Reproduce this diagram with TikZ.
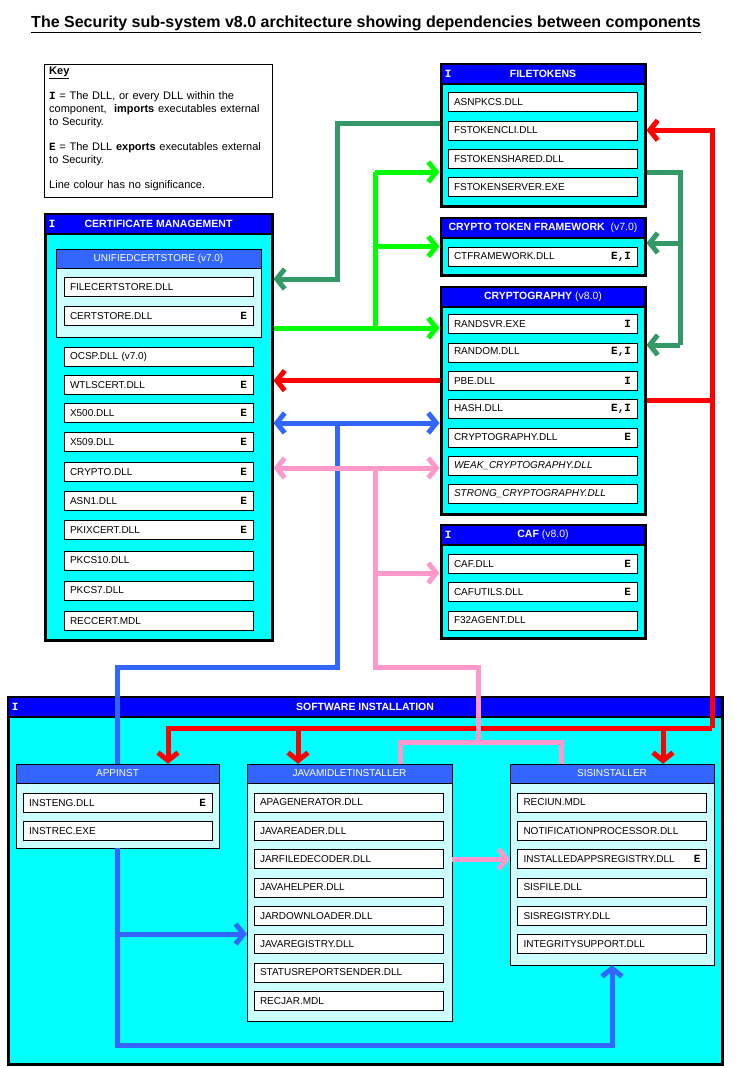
\documentclass[tikz,border=0pt]{standalone}
\usepackage{fontspec}
\setmainfont{Liberation Sans}
\newfontfamily\flagfont{Liberation Mono}
\usepackage{tikz}
\usetikzlibrary{positioning, arrows.meta, calc}
\definecolor{cyanbg}{HTML}{00FFFF}
\definecolor{hdrblue}{HTML}{0000FF}
\definecolor{midblue}{HTML}{3366FF}
\definecolor{paleblue}{HTML}{CCFFFF}
\definecolor{wiredgreen}{HTML}{339966}
\definecolor{wirelgreen}{HTML}{00FF00}
\definecolor{wirered}{HTML}{FF0000}
\definecolor{wireblue}{HTML}{3366FF}
\definecolor{wirepink}{HTML}{FF99CC}
\newcommand\itemfont{\fontsize{10}{12}\selectfont}
\newcommand\hdrfont{\fontsize{10.5}{12}\selectfont\bfseries}
\newcommand\dllflag[1]{\hfill{\flagfont\bfseries\fontsize{11}{12}\selectfont #1}\hspace*{3pt}}
\newcommand\keyflag[1]{{\flagfont\bfseries #1}}
\tikzset{
    titletext/.style={font=\fontsize{16}{19}\selectfont\bfseries, inner sep=0pt},
    keybox/.style={draw, thin, fill=white, inner sep=0pt},
    keytext/.style={font=\fontsize{11}{13}\selectfont, text width=222pt, align=left, inner sep=0pt},
    compbox/.style={draw, line width=3pt, fill=cyanbg, inner sep=0pt},
    comphead/.style={draw, line width=2.5pt, fill=hdrblue, text=white, font=\hdrfont, inner sep=0pt, minimum height=20pt},
    subbox/.style={draw, fill=paleblue, inner sep=0pt},
    subhead/.style={draw, fill=midblue, text=white, font=\itemfont, inner sep=0pt, minimum height=19pt},
    dllbox/.style={draw, fill=white, font=\itemfont, text width=177pt, inner xsep=6pt, inner ysep=0pt, minimum height=19pt, align=left},
    flagI/.style={text=white, font=\flagfont\bfseries\fontsize{11}{12}\selectfont, inner sep=0pt},
    wire/.style={line width=5pt},
    arr/.style={-{Straight Barb[length=8pt,width=20pt]}},
    arrs/.style={{Straight Barb[length=8pt,width=20pt]}-{Straight Barb[length=8pt,width=20pt]}},
}

\begin{document}
\begin{tikzpicture}[x=1pt, y=-1pt]
    \useasboundingbox (0,0) rectangle (741,1068);
    \node[titletext] (title) at (366,24) {\underline{The Security sub-system v8.0 architecture showing dependencies between components}};

    % key
    \node[keybox, minimum width=228pt, minimum height=133pt] (key) at (158,130.5) {};
    \node[keytext, anchor=north west] (keytxt) at (49,67) {\underline{\textbf{Key}}\\[12pt]
        \keyflag{I} = The DLL, or every DLL within the\\ component, \ \textbf{imports} executables external\\ to Security.\\[12pt]
        \keyflag{E} = The DLL \textbf{exports} executables external\\ to Security.\\[12pt]
        Line colour has no significance.};

    % FILETOKENS
    \node[compbox, minimum width=204pt, minimum height=142pt] (filetokens) at (543,135) {};
    \node[comphead, minimum width=204pt] (filetokens-h) at (543,74) {FILETOKENS};
    \node[flagI, anchor=west] (filetokens-i) at ([xshift=5pt]filetokens-h.west) {I};
    \node[dllbox] (asnpkcs) at (542.5,102) {ASNPKCS.DLL};
    \node[dllbox] (fstokencli) at (542.5,130.3) {FSTOKENCLI.DLL};
    \node[dllbox] (fstokenshared) at (542.5,158.6) {FSTOKENSHARED.DLL};
    \node[dllbox] (fstokenserver) at (542.5,187) {FSTOKENSERVER.EXE};

    % CRYPTO TOKEN FRAMEWORK
    \node[compbox, minimum width=204pt, minimum height=57pt] (ctfw) at (543,246.5) {};
    \node[comphead, minimum width=204pt] (ctfw-h) at (543,228) {CRYPTO TOKEN FRAMEWORK \ \mdseries(v7.0)};
    \node[dllbox] (ctframework) at (542.5,256.5) {CTFRAMEWORK.DLL\dllflag{E,I}};

    % CRYPTOGRAPHY
    \node[compbox, minimum width=204pt, minimum height=227pt] (cryptography) at (543,400.5) {};
    \node[comphead, minimum width=204pt] (cryptography-h) at (543,297) {CRYPTOGRAPHY \mdseries(v8.0)};
    \node[dllbox] (randsvr) at (542.5,324) {RANDSVR.EXE\dllflag{I}};
    \node[dllbox] (random) at (542.5,352.3) {RANDOM.DLL\dllflag{E,I}};
    \node[dllbox] (pbe) at (542.5,380.6) {PBE.DLL\dllflag{I}};
    \node[dllbox] (hash) at (542.5,409) {HASH.DLL\dllflag{E,I}};
    \node[dllbox] (cryptodll) at (542.5,437.3) {CRYPTOGRAPHY.DLL\dllflag{E}};
    \node[dllbox] (weakcrypto) at (542.5,465.6) {\textit{WEAK\_CRYPTOGRAPHY.DLL}};
    \node[dllbox] (strongcrypto) at (542.5,494) {\textit{STRONG\_CRYPTOGRAPHY.DLL}};

    % CAF
    \node[compbox, minimum width=204pt, minimum height=113pt] (caf) at (543,581.5) {};
    \node[comphead, minimum width=204pt] (caf-h) at (543,535) {CAF \mdseries(v8.0)};
    \node[flagI, anchor=west] (caf-i) at ([xshift=5pt]caf-h.west) {I};
    \node[dllbox] (cafdll) at (542.5,563.5) {CAF.DLL\dllflag{E}};
    \node[dllbox] (cafutils) at (542.5,592) {CAFUTILS.DLL\dllflag{E}};
    \node[dllbox] (f32agent) at (542.5,620.5) {F32AGENT.DLL};

    % CERTIFICATE MANAGEMENT
    \node[compbox, minimum width=227pt, minimum height=426pt] (cert) at (158.5,427) {};
    \node[comphead, minimum width=227pt] (cert-h) at (158.5,224) {CERTIFICATE MANAGEMENT};
    \node[flagI, anchor=west] (cert-i) at ([xshift=5pt]cert-h.west) {I};
    \node[subbox, minimum width=205pt, minimum height=88pt] (unifiedcertstore) at (158.5,293) {};
    \node[subhead, minimum width=205pt] (unifiedcertstore-h) at (158.5,258.5) {UNIFIEDCERTSTORE (v7.0)};
    \node[dllbox] (filecertstore) at (158.5,287) {FILECERTSTORE.DLL};
    \node[dllbox] (certstore) at (158.5,315.5) {CERTSTORE.DLL\dllflag{E}};
    \node[dllbox] (ocsp) at (158.5,357) {OCSP.DLL (v7.0)};
    \node[dllbox] (wtlscert) at (158.5,385) {WTLSCERT.DLL\dllflag{E}};
    \node[dllbox] (xfivehundred) at (158.5,412.5) {X500.DLL\dllflag{E}};
    \node[dllbox] (xfivenine) at (158.5,442) {X509.DLL\dllflag{E}};
    \node[dllbox] (cryptolib) at (158.5,472) {CRYPTO.DLL\dllflag{E}};
    \node[dllbox] (asnone) at (158.5,500.5) {ASN1.DLL\dllflag{E}};
    \node[dllbox] (pkixcert) at (158.5,530) {PKIXCERT.DLL\dllflag{E}};
    \node[dllbox] (pkcsten) at (158.5,560.5) {PKCS10.DLL};
    \node[dllbox] (pkcsseven) at (158.5,590.5) {PKCS7.DLL};
    \node[dllbox] (reccert) at (158.5,621) {RECCERT.MDL};

    % SOFTWARE INSTALLATION
    \node[compbox, minimum width=714pt, minimum height=367pt] (swinst) at (365,880.5) {};
    \node[comphead, minimum width=714pt] (swinst-h) at (365,707) {SOFTWARE INSTALLATION};
    \node[flagI, anchor=west] (swinst-i) at ([xshift=5pt]swinst-h.west) {I};

    \node[subbox, minimum width=203pt, minimum height=84pt] (appinst) at (117.5,806) {};
    \node[subhead, minimum width=203pt] (appinst-h) at (117.5,773.5) {APPINST};
    \node[dllbox] (insteng) at (117.5,802.5) {INSTENG.DLL\dllflag{E}};
    \node[dllbox] (instrec) at (117.5,831) {INSTREC.EXE};

    \node[subbox, minimum width=205pt, minimum height=257pt] (java) at (349.5,892.5) {};
    \node[subhead, minimum width=205pt] (java-h) at (349.5,773.5) {JAVAMIDLETINSTALLER};
    \node[dllbox] (apagenerator) at (348.5,802.5) {APAGENERATOR.DLL};
    \node[dllbox] (javareader) at (348.5,830.8) {JAVAREADER.DLL};
    \node[dllbox] (jarfiledecoder) at (348.5,859.1) {JARFILEDECODER.DLL};
    \node[dllbox] (javahelper) at (348.5,887.4) {JAVAHELPER.DLL};
    \node[dllbox] (jardownloader) at (348.5,915.7) {JARDOWNLOADER.DLL};
    \node[dllbox] (javaregistry) at (348.5,944) {JAVAREGISTRY.DLL};
    \node[dllbox] (statusreportsender) at (348.5,972.3) {STATUSREPORTSENDER.DLL};
    \node[dllbox] (recjar) at (348.5,1000.6) {RECJAR.MDL};

    \node[subbox, minimum width=204pt, minimum height=201pt] (sis) at (612,864.5) {};
    \node[subhead, minimum width=204pt] (sis-h) at (612,773.5) {SISINSTALLER};
    \node[dllbox] (reciun) at (612,802.5) {RECIUN.MDL};
    \node[dllbox] (notifproc) at (612,830.8) {NOTIFICATIONPROCESSOR.DLL};
    \node[dllbox] (installedapps) at (612,859.1) {INSTALLEDAPPSREGISTRY.DLL\dllflag{E}};
    \node[dllbox] (sisfile) at (612,887.4) {SISFILE.DLL};
    \node[dllbox] (sisregistry) at (612,915.7) {SISREGISTRY.DLL};
    \node[dllbox] (integritysupport) at (612,944) {INTEGRITYSUPPORT.DLL};

    % dependency lines
    \coordinate (dgA) at (337,123);
    \coordinate (dgB) at (337,279);
    \coordinate (dgC) at (680,172);
    \coordinate (dgD) at (680,345);
    \draw[wire, wiredgreen, arr] (dgA -| filetokens.west) -- (dgA) -- (dgB) -- (dgB -| cert.east);
    \draw[wire, wiredgreen] (dgC -| filetokens.east) -- (dgC) -- (dgD);
    \draw[wire, wiredgreen, arr] (dgD) -- (dgD -| cryptography.east);
    \draw[wire, wiredgreen, arr] (dgC |- 0,243) -- (ctfw.east |- 0,243);

    \coordinate (lgA) at (375,172);
    \coordinate (lgB) at (375,328);
    \draw[wire, wirelgreen, arr] (lgB -| cert.east) -- (lgB -| cryptography.west);
    \draw[wire, wirelgreen] (lgB) -- (lgA);
    \draw[wire, wirelgreen, arr] (lgA) -- (lgA -| filetokens.west);
    \draw[wire, wirelgreen, arr] (lgA |- ctfw.west) -- (ctfw.west);

    \coordinate (rdA) at (712,130.3);
    \coordinate (rdB) at (712,728);
    \coordinate (rdC) at (712,400);
    \coordinate (rdD) at (168,728);
    \coordinate (rdE) at (298,728);
    \coordinate (rdF) at (663,728);
    \draw[wire, wirered, arr] (pbe.west -| cryptography.west) -- (pbe.west -| cert.east);
    \draw[wire, wirered] (rdC -| cryptography.east) -- (rdC);
    \draw[wire, wirered, arr] (rdB) -- (rdA) -- (fstokencli -| filetokens.east);
    \draw[wire, wirered, arr] (rdB) -- (rdD) -- (rdD |- appinst.north);
    \draw[wire, wirered, arr] (rdE) -- (rdE |- java.north);
    \draw[wire, wirered, arr] (rdF) -- (rdF |- sis.north);

    \coordinate (blA) at (337,423);
    \coordinate (blB) at (337,667);
    \coordinate (blC) at (117.5,667);
    \coordinate (blD) at (117.5,1045);
    \coordinate (blE) at (612,1045);
    \coordinate (blF) at (117.5,934);
    \draw[wire, wireblue, arrs] (blA -| cert.east) -- (blA -| cryptography.west);
    \draw[wire, wireblue] (blA) -- (blB) -- (blC) -- (appinst.north);
    \draw[wire, wireblue, arr] (appinst.south) -- (blD) -- (blE) -- (sis.south);
    \draw[wire, wireblue, arr] (blF) -- (blF -| java.west);

    \coordinate (pkA) at (375,468);
    \coordinate (pkB) at (375,667);
    \coordinate (pkC) at (478,667);
    \coordinate (pkD) at (478,742);
    \coordinate (pkE) at (400,742);
    \coordinate (pkF) at (561,742);
    \coordinate (pkG) at (375,573);
    \draw[wire, wirepink, arrs] (pkA -| cert.east) -- (pkA -| cryptography.west);
    \draw[wire, wirepink] (pkA) -- (pkB) -- (pkC) -- (pkD);
    \draw[wire, wirepink, arr] (pkG) -- (pkG -| caf.west);
    \draw[wire, wirepink] (pkE |- java.north) -- (pkE) -- (pkF) -- (pkF |- sis.north);
    \draw[wire, wirepink, arr] (installedapps -| java.east) -- (installedapps -| sis.west);
\end{tikzpicture}
\end{document}
